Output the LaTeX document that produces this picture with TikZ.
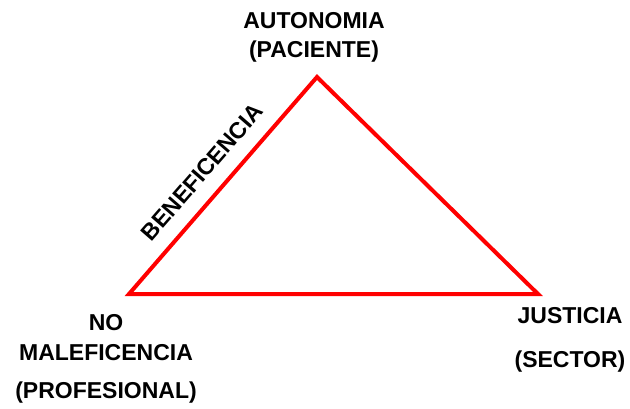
\documentclass[tikz,border=0pt]{standalone}
\usepackage{fontspec}
\setmainfont{Liberation Sans}
\begin{document}
\begin{tikzpicture}[x=1pt,y=-1pt,
  lbl/.style={font=\fontsize{23}{28}\selectfont\bfseries, inner sep=0pt, anchor=base},
  edge/.style={draw=red, line width=4pt, line join=miter}]
\useasboundingbox (0,0) rectangle (630,408);
\coordinate (top) at (317,77);
\coordinate (left) at (129,294);
\coordinate (right) at (538,294);
\draw[edge] (top) -- (left) -- (right) -- cycle;
\node[lbl] (aut) at (314,28) {AUTONOMIA};
\node[lbl] (pac) at (314,57) {(PACIENTE)};
\node[lbl] (no) at (106,330) {NO};
\node[lbl] (mal) at (106,360) {MALEFICENCIA};
\node[lbl] (pro) at (106,398) {(PROFESIONAL)};
\node[lbl] (jus) at (570,323) {JUSTICIA};
\node[lbl] (sec) at (570,367) {(SECTOR)};
\node[font=\fontsize{23}{28}\selectfont\bfseries, inner sep=0pt, rotate=49] (ben) at (202,172) {BENEFICENCIA};
\end{tikzpicture}
\end{document}
